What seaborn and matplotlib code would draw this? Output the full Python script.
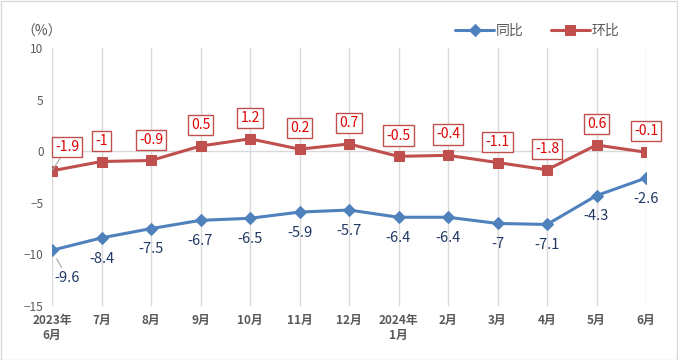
import matplotlib
matplotlib.use("Agg")
import numpy as np
import pandas as pd
import matplotlib.pyplot as plt
import seaborn as sns

months = ["2023年\n6月", "7月", "8月", "9月", "10月", "11月", "12月",
          "2024年\n1月", "2月", "3月", "4月", "5月", "6月"]
yoy = [-9.6, -8.4, -7.5, -6.7, -6.5, -5.9, -5.7, -6.4, -6.4, -7, -7.1, -4.3, -2.6]
mom = [-1.9, -1, -0.9, 0.5, 1.2, 0.2, 0.7, -0.5, -0.4, -1.1, -1.8, 0.6, -0.1]
yoy_labels = ["-9.6", "-8.4", "-7.5", "-6.7", "-6.5", "-5.9", "-5.7", "-6.4", "-6.4", "-7", "-7.1", "-4.3", "-2.6"]
mom_labels = ["-1.9", "-1", "-0.9", "0.5", "1.2", "0.2", "0.7", "-0.5", "-0.4", "-1.1", "-1.8", "0.6", "-0.1"]

sns.set_style("white")
plt.rcParams['font.family'] = ['Noto Sans CJK SC', 'DejaVu Sans']

BLUE = "#4F81BD"
RED = "#C0504D"
GRAY = "#595959"

df = pd.DataFrame({"idx": np.arange(len(months)), "同比": yoy, "环比": mom})

fig = plt.figure(figsize=(6.78, 3.6), dpi=100)
ax = fig.add_axes([52 / 678, 1 - 306 / 360, (646 - 52) / 678, (306 - 48) / 360])

# gridlines
for i in df["idx"]:
    ax.axvline(i, color="#D9D9D9", lw=1, zorder=0)
ax.axhline(0, color="#D9D9D9", lw=1, zorder=0)

sns.lineplot(data=df, x="idx", y="同比", ax=ax, color=BLUE, lw=2.2, marker="D",
             markersize=6, markeredgecolor=BLUE, label="同比", zorder=3)
sns.lineplot(data=df, x="idx", y="环比", ax=ax, color=RED, lw=2.2, marker="s",
             markersize=7, markeredgecolor=RED, label="环比", zorder=3)

# data labels
for i, (v, t) in enumerate(zip(mom, mom_labels)):
    box = dict(boxstyle="square,pad=0.22", fc="white", ec=RED, lw=1)
    if i == 0:
        ax.annotate(t, (i, v), xytext=(11, 17), textcoords="offset points",
                    ha="center", va="center", fontsize=10, color="#E00000", bbox=box,
                    arrowprops=dict(arrowstyle="-", color="#A6A6A6", lw=0.8,
                                    shrinkA=0, shrinkB=0), zorder=4)
    else:
        ax.annotate(t, (i, v), xytext=(0, 15), textcoords="offset points",
                    ha="center", va="center", fontsize=10, color="#E00000", bbox=box, zorder=4)

for i, (v, t) in enumerate(zip(yoy, yoy_labels)):
    if i == 0:
        ax.annotate(t, (i, v), xytext=(11, -20), textcoords="offset points",
                    ha="center", va="center", fontsize=10.5, color="#1F3864",
                    arrowprops=dict(arrowstyle="-", color="#A6A6A6", lw=0.8,
                                    shrinkA=0, shrinkB=7), zorder=4)
    else:
        ax.annotate(t, (i, v), xytext=(0, -15), textcoords="offset points",
                    ha="center", va="center", fontsize=10.5, color="#1F3864", zorder=4)

ax.set_xlim(0, 12)
ax.set_ylim(-15, 10)
ax.set_yticks([10, 5, 0, -5, -10, -15])
ax.set_xticks(df["idx"])
ax.set_xticklabels(months, fontweight="bold", color=GRAY, fontsize=8.5, linespacing=1.2)
ax.tick_params(axis="y", labelcolor=GRAY, labelsize=8.5, length=0, pad=6)
ax.tick_params(axis="x", length=0, pad=6)
for lbl in ax.get_xticklabels():
    lbl.set_va("top")
ax.set_xlabel("")
ax.set_ylabel("")
for s in ax.spines.values():
    s.set_visible(False)

fig.text(42 / 678, 1 - 32 / 360, "（%）", ha="center", va="center",
         fontsize=10, color=GRAY)

leg = ax.legend(loc="center", bbox_to_anchor=(537 / 678, 1 - 31 / 360),
                bbox_transform=fig.transFigure, ncol=2, frameon=False,
                fontsize=10, handlelength=2.8, handletextpad=0.1,
                columnspacing=2.0, labelcolor=GRAY)

fig.patches.append(plt.Rectangle((0.001, 0.001), 0.998, 0.996, transform=fig.transFigure,
                                 fill=False, ec="#D9D9D9", lw=1))

fig.savefig("out.png", dpi=100)
